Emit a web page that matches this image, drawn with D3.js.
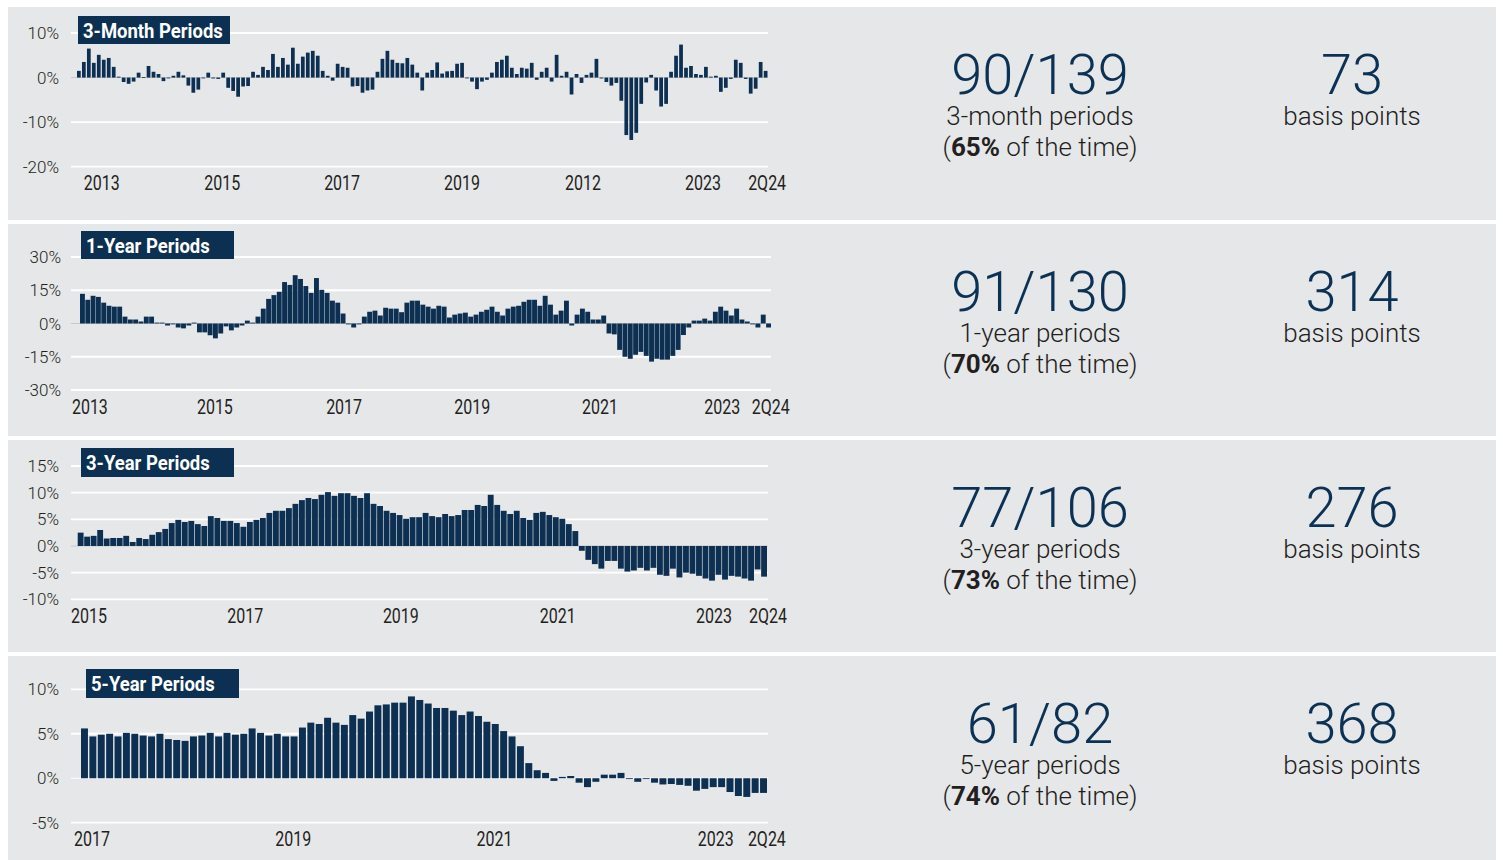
<!DOCTYPE html>
<html>
<head>
<meta charset="utf-8">
<script src="https://cdn.jsdelivr.net/npm/d3@7/dist/d3.min.js"></script>
<style>
body { margin: 0; background: #ffffff; }
</style>
</head>
<body>
<script>
// rolling-period excess returns, in %
var threeMonth = [1.5,3.5,6.5,3.3,5.1,4.0,4.4,2.4,0.2,-1.0,-1.4,-0.9,1.1,0.1,2.6,1.3,0.8,-0.8,-0.1,0.4,1.3,0.5,-1.8,-3.4,-2.7,0,1.1,-0.2,-0.3,1.1,-2.3,-3.0,-4.3,-2.0,-1.9,1.3,0.6,2.4,1.7,5.3,2.4,4.4,2.9,6.7,3.1,4.7,5.6,6.0,4.9,1.5,0.4,-0.7,3.1,2.4,2.2,-2.0,-1.9,-3.4,-2.9,-2.7,1.3,4.2,6.0,4.0,3.3,
    3.2,4.4,2.9,1.1,-2.9,1.1,1.7,3.4,0.9,1.4,1.5,3.1,3.3,-0.1,-0.9,-2.6,-0.9,-0.5,1.1,3.5,4.0,4.9,2.2,0.8,2.2,2.0,3.3,-0.5,1.3,2.2,-0.9,5.1,0.4,1.3,-3.8,0.8,-1.2,0.6,1.1,4.2,-0.2,-1.0,-1.8,-1.2,-5.2,-12.9,-14.0,-12.4,-5.9,-1.1,0.6,-2.9,-6.5,-5.9,1.3,4.9,7.4,2.2,2.6,0.8,0.6,2.4,0.2,0.4,-3.2,-2.3,-0.3,4.0,3.3,-0.3,-3.6,-2.5,3.5,1.5];
var oneYear = [13.4,10.7,12.5,12.0,9.4,8.0,7.6,7.6,3.1,1.8,1.8,0.9,3.1,3.1,0.4,0.4,-0.9,-0.4,-1.8,-2.2,-0.9,0.4,-4.0,-4.0,-5.3,-6.7,-4.5,-1.3,-3.1,-1.8,-0.9,1.3,0.4,3.1,6.7,11.1,12.8,14.3,18.7,17.4,21.8,20.1,16.9,13.8,20.5,15.2,13.8,10.3,9.4,4.5,-0.4,-1.8,-0.4,3.1,5.3,5.8,3.6,7.1,6.7,6.7,
    5.1,9.4,10.3,10.3,8.5,7.6,6.7,8.0,7.6,2.7,4.0,4.5,4.9,3.1,4.0,5.3,6.2,7.6,5.3,3.6,6.7,7.6,8.0,9.8,10.7,10.7,8.0,12.5,8.5,4.0,5.8,10.3,-0.9,4.0,6.7,5.3,1.8,1.8,3.6,-4.5,-4.9,-11.9,-15.0,-15.9,-14.1,-12.8,-14.6,-17.2,-15.9,-16.3,-16.3,-14.6,-11.9,-5.2,-1.8,1.3,1.3,2.2,1.3,5.3,7.6,5.8,3.6,6.7,1.8,0.9,-0.4,-1.8,4.0,-1.8];
var threeYear = [2.5,1.75,1.9,3.0,1.4,1.5,1.5,1.9,0.75,1.5,1.3,2.1,2.6,3.2,4.3,4.9,4.5,4.7,4.1,3.75,5.6,5.25,4.7,4.7,4.3,3.6,4.5,4.9,5.25,6.2,6.6,6.6,7.1,7.9,8.6,9.0,8.8,9.6,10.1,9.4,9.9,9.9,9.4,9.0,9.9,7.9,7.5,6.6,6.2,5.8,
    5.1,5.4,5.4,6.2,5.6,5.4,6.0,5.6,5.8,6.75,6.75,7.7,7.5,9.6,7.7,6.6,6.0,6.6,5.25,4.9,6.2,6.4,5.8,5.4,5.1,4.1,2.8,-0.9,-2.6,-3.4,-4.25,-2.8,-2.8,-4.25,-4.8,-4.6,-4.1,-4.6,-4.1,-5.4,-5.6,-4.25,-5.9,-5.0,-5.2,-5.6,-6.1,-6.5,-5.4,-6.3,-5.6,-5.75,-6.1,-6.5,-4.4,-5.75];
var fiveYear = [5.6,4.7,4.9,5.0,4.7,5.1,5.0,4.8,4.7,5.0,4.4,4.3,4.2,4.7,4.8,5.1,4.7,5.1,4.9,5.0,5.6,5.1,4.8,5.0,4.7,4.7,5.7,6.25,6.1,6.8,6.25,6.0,7.1,6.7,7.5,8.2,8.3,8.5,
    8.5,9.2,8.8,8.4,7.9,7.9,7.6,7.1,7.5,7.0,6.35,6.1,5.3,4.7,3.6,1.7,0.9,0.6,-0.3,0.15,0.25,-0.5,-1.0,-0.4,0.4,0.4,0.6,-0.05,-0.4,-0.05,-0.5,-0.7,-0.65,-0.75,-0.85,-1.4,-1.2,-1.0,-1.0,-1.55,-2.0,-2.1,-1.65,-1.65];

var panelTitles = ["3-Month Periods", "1-Year Periods", "3-Year Periods", "5-Year Periods"];

var yTicks1 = [-20, -10, 0, 10];
var yTicks2 = [-30, -15, 0, 15, 30];
var yTicks3 = [-10, -5, 0, 5, 10, 15];
var yTicks4 = [-5, 0, 5, 10];

var xLabels1 = ["2013", "2015", "2017", "2019", "2012", "2023", "2Q24"];
var xLabels2 = ["2013", "2015", "2017", "2019", "2021", "2023", "2Q24"];
var xLabels3 = ["2015", "2017", "2019", "2021", "2023", "2Q24"];
var xLabels4 = ["2017", "2019", "2021", "2023", "2Q24"];
// bar index under each x label
var xLabelAt1 = [4.6, 28.8, 52.9, 77, 101.3, 125.4, 138.3];
var xLabelAt2 = [1.4, 24.9, 49.2, 73.3, 97.3, 120.3, 129.4];
var xLabelAt3 = [1.3, 25.3, 49.2, 73.3, 97.3, 105.6];
var xLabelAt4 = [0.9, 24.9, 48.9, 75.3, 81.4];

var hitCounts = ["90/139", "91/130", "77/106", "61/82"];
var periodNames = ["3-month periods", "1-year periods", "3-year periods", "5-year periods"];
var hitShares = ["65%", "70%", "73%", "74%"];
var basisPoints = ["73", "314", "276", "368"];

var barColor = "#0c2f52";
var numberColor = "#0b3154";
var textColor = "#231f20";
var baseFont = "Roboto, 'Liberation Sans', sans-serif";

var layouts = [
    { top: 7,   height: 213, x0: 77,   x1: 767.5, pad: 0.25, yTop: 33,    yBottom: 166.7, gridEnd: 768, labelRight: 59, xLabelY: 190,   box: [78, 16, 152, 28], zeroColor: "#c8c8c8" },
    { top: 224, height: 212, x0: 80,   x1: 771,   pad: 0.08, yTop: 257,   yBottom: 390,   gridEnd: 771, labelRight: 61, xLabelY: 414,   box: [81, 231, 153, 28], zeroColor: "#c8c8c8" },
    { top: 440, height: 212, x0: 77.7, x1: 767,   pad: 0.1,  yTop: 466,   yBottom: 599.3, gridEnd: 768, labelRight: 59, xLabelY: 622.7, box: [81, 448, 153, 29], zeroColor: "#c8c8c8" },
    { top: 656, height: 204, x0: 81,   x1: 767,   pad: 0.17, yTop: 689.3, yBottom: 822.7, gridEnd: 768, labelRight: 59, xLabelY: 846,   box: [86, 669, 153, 29], zeroColor: "#ffffff" }
];

var series = [threeMonth, oneYear, threeYear, fiveYear];
var yTicks = [yTicks1, yTicks2, yTicks3, yTicks4];
var xLabels = [xLabels1, xLabels2, xLabels3, xLabels4];
var xLabelAt = [xLabelAt1, xLabelAt2, xLabelAt3, xLabelAt4];

var svg = d3.select("body").append("svg")
    .attr("width", 1503)
    .attr("height", 860);

for (var p = 0; p < 4; p++) {
    drawPanel(p);
}

// squeeze a text horizontally, no condensed face is installed
function condense(selection, factor) {
    selection.each(function () {
        var w = this.getComputedTextLength();
        this.setAttribute("textLength", w * factor);
        this.setAttribute("lengthAdjust", "spacingAndGlyphs");
    });
}

function drawPanel(p) {
    var lay = layouts[p];
    var values = series[p];
    var ticks = yTicks[p];
    var g = svg.append("g");

    g.append("rect")
        .attr("x", 8)
        .attr("y", lay.top)
        .attr("width", 1488)
        .attr("height", lay.height)
        .attr("fill", "#e6e7e9");

    var x = d3.scaleBand()
        .domain(d3.range(values.length))
        .range([lay.x0, lay.x1])
        .paddingInner(lay.pad)
        .paddingOuter(0);
    var y = d3.scaleLinear()
        .domain([d3.min(ticks), d3.max(ticks)])
        .range([lay.yBottom, lay.yTop]);

    // grid
    g.selectAll(".grid")
        .data(ticks)
        .enter().append("line")
        .attr("x1", 71)
        .attr("x2", lay.gridEnd)
        .attr("y1", d => y(d))
        .attr("y2", d => y(d))
        .attr("stroke", d => d === 0 ? lay.zeroColor : "#ffffff")
        .attr("stroke-width", d => d === 0 ? 1 : 1.8);

    // y labels
    g.selectAll(".ylab")
        .data(ticks)
        .enter().append("text")
        .attr("x", lay.labelRight)
        .attr("y", d => y(d))
        .attr("dy", "0.36em")
        .attr("text-anchor", "end")
        .style("font-family", baseFont)
        .style("font-weight", 300)
        .style("font-size", "17px")
        .attr("fill", textColor)
        .text(d => d + "%");

    // bars
    g.selectAll(".bar")
        .data(values)
        .enter().append("rect")
        .attr("x", (d, i) => x(i))
        .attr("width", x.bandwidth())
        .attr("y", d => y(Math.max(0, d)))
        .attr("height", d => Math.max(0.8, Math.abs(y(d) - y(0))))
        .attr("fill", barColor);

    // x labels
    var labels = xLabels[p];
    var at = xLabelAt[p];
    g.selectAll(".xlab")
        .data(labels)
        .enter().append("text")
        .attr("x", (d, i) => x(0) + at[i] * x.step() + x.bandwidth() / 2)
        .attr("y", lay.xLabelY)
        .attr("text-anchor", "middle")
        .style("font-family", baseFont)
        .style("font-size", "20px")
        .attr("fill", textColor)
        .text(d => d)
        .call(condense, 0.8);

    // title box
    var box = lay.box;
    g.append("rect")
        .attr("x", box[0])
        .attr("y", box[1])
        .attr("width", box[2])
        .attr("height", box[3])
        .attr("fill", "#0b3051");
    g.append("text")
        .attr("x", box[0] + 5)
        .attr("y", box[1] + box[3] / 2)
        .attr("dy", "0.36em")
        .style("font-family", baseFont)
        .style("font-weight", "bold")
        .style("font-size", "21px")
        .attr("fill", "#ffffff")
        .text(panelTitles[p])
        .call(condense, 0.88);

    // stats on the right
    g.append("text")
        .attr("x", 1040)
        .attr("y", lay.top + 87)
        .attr("text-anchor", "middle")
        .style("font-family", baseFont)
        .style("font-weight", 300)
        .style("font-size", "56px")
        .attr("fill", numberColor)
        .text(hitCounts[p]);
    g.append("text")
        .attr("x", 1040)
        .attr("y", lay.top + 118)
        .attr("text-anchor", "middle")
        .style("font-family", baseFont)
        .style("font-weight", 300)
        .style("font-size", "26px")
        .attr("fill", textColor)
        .text(periodNames[p]);
    var share = g.append("text")
        .attr("x", 1040)
        .attr("y", lay.top + 149)
        .attr("text-anchor", "middle")
        .style("font-family", baseFont)
        .style("font-weight", 300)
        .style("font-size", "26px")
        .attr("fill", textColor);
    share.append("tspan").text("(");
    share.append("tspan").style("font-weight", 700).text(hitShares[p]);
    share.append("tspan").text(" of the time)");

    g.append("text")
        .attr("x", 1352)
        .attr("y", lay.top + 87)
        .attr("text-anchor", "middle")
        .style("font-family", baseFont)
        .style("font-weight", 300)
        .style("font-size", "56px")
        .attr("fill", numberColor)
        .text(basisPoints[p]);
    g.append("text")
        .attr("x", 1352)
        .attr("y", lay.top + 118)
        .attr("text-anchor", "middle")
        .style("font-family", baseFont)
        .style("font-weight", 300)
        .style("font-size", "26px")
        .attr("fill", textColor)
        .text("basis points");
}
</script>
</body>
</html>
